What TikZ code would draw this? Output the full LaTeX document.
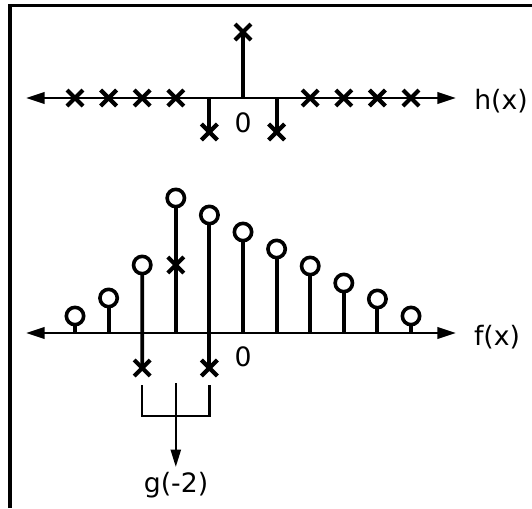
\documentclass[tikz,border=0pt]{standalone}
\usepackage{fontspec}
\setmainfont{DejaVu Sans}
\usetikzlibrary{arrows.meta,shapes.misc}
\begin{document}
\begin{tikzpicture}[x=0.75pt,y=-0.75pt,
  axisline/.style={line width=2.2pt,{Triangle[length=14pt,width=8.5pt]}-{Triangle[length=14pt,width=8.5pt]}},
  stem/.style={line width=2.9pt},
  xmark/.style={cross out,draw,line width=3.1pt,minimum size=12pt,inner sep=0pt,outer sep=0pt},
  omark/.style={circle,draw,line width=2.7pt,minimum size=13pt,inner sep=0pt,outer sep=0pt},
  lbl/.style={font=\fontsize{20}{24}\selectfont,inner sep=0pt},
  thin/.style={line width=1.7pt},
  framel/.style={line width=2.4pt}]
\useasboundingbox (0,0) rectangle (532,508);
% frame
\coordinate (fa) at (10,508);
\coordinate (fb) at (10,5.5);
\coordinate (fc) at (533,5.5);
\draw[framel] (fa) -- (fb) -- (fc);

% ---------- top: h(x) ----------
\coordinate (hl) at (26,98);
\coordinate (hr) at (456,98);
\draw[axisline] (hl) -- (hr);
\node[lbl] (hlab) at (501,101) {h(x)};
\node[lbl] (hzero) at (243,122.5) {0};
\foreach \k in {-5,-4,-3,-2,2,3,4,5}{
  \pgfmathsetmacro{\xx}{243+33.6*\k}
  \node[xmark] (hx\k) at (\xx,98) {};
}
\coordinate (ha0) at (243,98);
\node[xmark] (hx0) at (243,32) {};
\draw[stem] (ha0) -- (hx0.center);
\coordinate (ham1) at (209.4,98);
\node[xmark] (hxm1) at (209.4,132) {};
\draw[stem] (ham1) -- (hxm1.center);
\coordinate (hap1) at (276.6,98);
\node[xmark] (hxp1) at (276.6,132) {};
\draw[stem] (hap1) -- (hxp1.center);

% ---------- bottom: f(x) ----------
\coordinate (fl) at (26,333);
\coordinate (fr) at (456,333);
\draw[axisline] (fl) -- (fr);
\node[lbl] (flab) at (497,337) {f(x)};
\node[lbl] (fzero) at (243,357) {0};
\foreach \k/\yy in {-5/316,-4/298,-3/265,-2/198,-1/215,0/232,1/249,2/266,3/283,4/299,5/316}{
  \pgfmathsetmacro{\xx}{243+33.6*\k}
  \node[omark] (fo\k) at (\xx,\yy) {};
  \coordinate (fa\k) at (\xx,333);
}
\foreach \k in {-5,-4,-2,0,1,2,3,4,5}{
  \draw[stem] (fa\k) -- (fo\k.south);
}
\node[xmark] (fxm3) at (142.2,368) {};
\node[xmark] (fxm1) at (209.4,368) {};
\draw[stem] (fxm3.center) -- (fo-3.south);
\draw[stem] (fxm1.center) -- (fo-1.south);
\node[xmark] (fxm2) at (175.8,265) {};

% ---------- bracket ----------
\coordinate (bl1) at (142.2,385);
\coordinate (bl2) at (142.2,416);
\coordinate (br2) at (209.4,416);
\coordinate (br1) at (209.4,385);
\draw[thin] (bl1) -- (bl2) -- (br2) -- (br1);
\coordinate (bc1) at (175.8,383);
\coordinate (bc2) at (175.8,467);
\draw[thin,-{Triangle[length=13pt,width=7.5pt]}] (bc1) -- (bc2);
\node[lbl] (glab) at (176,485) {g(-2)};
\end{tikzpicture}
\end{document}
